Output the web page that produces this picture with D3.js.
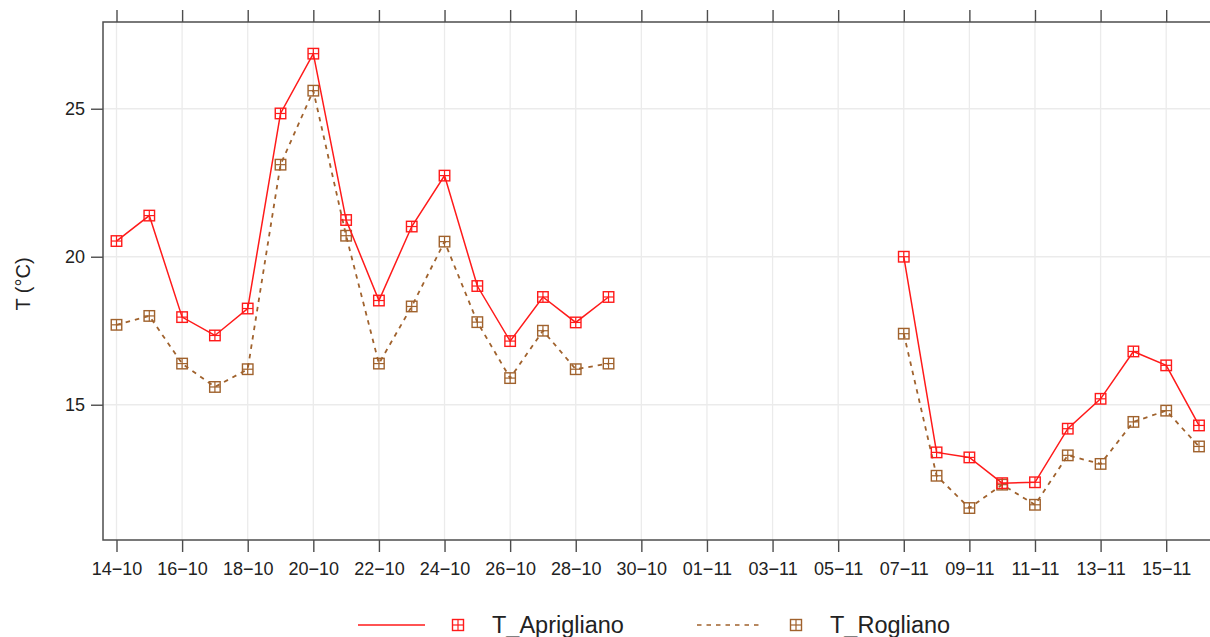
<!DOCTYPE html>
<html>
<head>
<meta charset="utf-8">
<script src="https://cdn.jsdelivr.net/npm/d3@7"></script>
<style>
  html, body { margin: 0; padding: 0; background: #fff; }
  svg { display: block; font-family: "Liberation Sans", Arial, Helvetica, sans-serif; }
</style>
</head>
<body>
<svg id="chart" width="1210" height="637"></svg>
<script>
// Daily dates (day-month), 14 October to 16 November
const dates = [
  "14-10","15-10","16-10","17-10","18-10","19-10","20-10","21-10","22-10","23-10",
  "24-10","25-10","26-10","27-10","28-10","29-10","30-10","31-10",
  "01-11","02-11","03-11","04-11","05-11","06-11","07-11","08-11","09-11","10-11",
  "11-11","12-11","13-11","14-11","15-11","16-11"
];

// Daily temperature (°C); null = no data
const tAprigliano = [
  20.53, 21.39, 17.96, 17.34, 18.25, 24.84, 26.86, 21.24, 18.52, 21.02,
  22.74, 19.01, 17.15, 18.64, 17.78, 18.64, null, null,
  null, null, null, null, null, null, 20.00, 13.39, 13.22, 12.35,
  12.38, 14.19, 15.20, 16.80, 16.33, 14.30
];
const tRogliano = [
  17.70, 18.00, 16.39, 15.60, 16.20, 23.11, 25.61, 20.71, 16.39, 18.32,
  20.51, 17.79, 15.90, 17.50, 16.20, 16.39, null, null,
  null, null, null, null, null, null, 17.40, 12.60, 11.51, 12.30,
  11.62, 13.29, 13.00, 14.42, 14.80, 13.59
];

const xTickLabels = [
  "14-10","16-10","18-10","20-10","22-10","24-10","26-10","28-10","30-10",
  "01-11","03-11","05-11","07-11","09-11","11-11","13-11","15-11"
];
const yTicks = [15, 20, 25];
const yDomain = [10.43, 27.93];

const seriesNames = ["T_Aprigliano", "T_Rogliano"];
const seriesValues = [tAprigliano, tRogliano];
const seriesColors = ["#ff1a1a", "#a0622d"];
const seriesDash = [null, "4.5,5"];

const svg = d3.select("#chart");
const panel = { left: 103, top: 22, right: 1216, bottom: 540 };

const x = d3.scalePoint().domain(dates).range([116.5, 1199]);
const y = d3.scaleLinear().domain(yDomain).range([panel.bottom, panel.top]);

const axisColor = "#4d4d4d";
const gridColor = "#ebebeb";
const fmtDate = s => s.replace("-", "\u2212");

// grid
const grid = svg.append("g");
grid.selectAll("line.v").data(xTickLabels).join("line")
  .attr("x1", d => x(d)).attr("x2", d => x(d))
  .attr("y1", panel.top).attr("y2", panel.bottom)
  .attr("stroke", gridColor).attr("stroke-width", 1.3);
grid.selectAll("line.h").data(yTicks).join("line")
  .attr("x1", panel.left).attr("x2", panel.right)
  .attr("y1", d => y(d)).attr("y2", d => y(d))
  .attr("stroke", gridColor).attr("stroke-width", 1.3);

// axes
const styleAxis = g => {
  g.select(".domain").remove();
  g.selectAll(".tick line").attr("stroke", axisColor).attr("stroke-width", 1.4);
  g.selectAll(".tick text").attr("fill", "#222").style("font-size", "18px");
};
svg.append("g").attr("transform", `translate(0,${panel.bottom})`)
  .call(d3.axisBottom(x).tickValues(xTickLabels).tickSize(12).tickPadding(10).tickFormat(fmtDate))
  .call(styleAxis);
svg.append("g").attr("transform", `translate(0,${panel.top})`)
  .call(d3.axisTop(x).tickValues(xTickLabels).tickSize(12).tickFormat(() => ""))
  .call(styleAxis);
svg.append("g").attr("transform", `translate(${panel.left},0)`)
  .call(d3.axisLeft(y).tickValues(yTicks).tickSize(12).tickPadding(6).tickFormat(d3.format("d")))
  .call(styleAxis);

// panel border
svg.append("rect")
  .attr("x", panel.left).attr("y", panel.top)
  .attr("width", panel.right - panel.left).attr("height", panel.bottom - panel.top)
  .attr("fill", "none").attr("stroke", axisColor).attr("stroke-width", 1.5);

// y label
svg.append("text")
  .attr("transform", "translate(30,284) rotate(-90)")
  .attr("text-anchor", "middle")
  .attr("fill", "#222")
  .style("font-size", "20px")
  .text("T (°C)");

// square-with-cross marker
function marker(g, cx, cy, size, color) {
  const h = size / 2;
  g.append("rect").attr("x", cx - h).attr("y", cy - h).attr("width", size).attr("height", size)
    .attr("fill", "none").attr("stroke", color).attr("stroke-width", 1.4);
  g.append("line").attr("x1", cx - h).attr("x2", cx + h).attr("y1", cy).attr("y2", cy)
    .attr("stroke", color).attr("stroke-width", 1.2);
  g.append("line").attr("x1", cx).attr("x2", cx).attr("y1", cy - h).attr("y2", cy + h)
    .attr("stroke", color).attr("stroke-width", 1.2);
}

const line = d3.line()
  .defined(d => d.v != null)
  .x(d => x(d.date))
  .y(d => y(d.v));

// draw series (second series first so the red one sits on top)
[1, 0].forEach(i => {
  const data = dates.map((date, j) => ({ date, v: seriesValues[i][j] }));
  const g = svg.append("g");
  g.append("path").datum(data)
    .attr("d", line)
    .attr("fill", "none")
    .attr("stroke", seriesColors[i])
    .attr("stroke-width", i === 0 ? 1.5 : 1.8)
    .attr("stroke-dasharray", seriesDash[i]);
  data.filter(d => d.v != null).forEach(d => marker(g, x(d.date), y(d.v), 10.5, seriesColors[i]));
});

// legend
const legendItems = [
  { x1: 358, x2: 425, mx: 458, tx: 492 },
  { x1: 697, x2: 762, mx: 796, tx: 830 }
];
const ly = 625;
legendItems.forEach((it, i) => {
  const g = svg.append("g");
  g.append("line")
    .attr("x1", it.x1).attr("x2", it.x2)
    .attr("y1", ly).attr("y2", ly)
    .attr("stroke", seriesColors[i]).attr("stroke-width", 1.5)
    .attr("stroke-dasharray", seriesDash[i]);
  marker(g, it.mx, ly, 11, seriesColors[i]);
  g.append("text")
    .attr("x", it.tx).attr("y", ly).attr("dy", "0.35em")
    .attr("fill", "#222")
    .style("font-size", "23.5px")
    .text(seriesNames[i]);
});
</script>
</body>
</html>
